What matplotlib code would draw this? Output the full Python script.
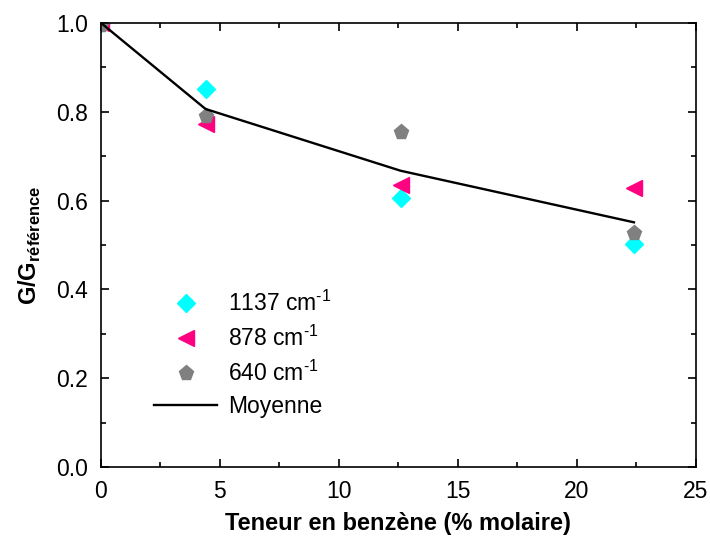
import matplotlib
matplotlib.use("Agg")
import matplotlib.pyplot as plt
from matplotlib.ticker import MultipleLocator, FormatStrFormatter

plt.rcParams['font.family'] = ['Liberation Sans', 'DejaVu Sans']
plt.rcParams['mathtext.fontset'] = 'custom'
plt.rcParams['mathtext.rm'] = 'Liberation Sans'
plt.rcParams['mathtext.bf'] = 'Liberation Sans:bold'

x = [0, 4.4, 12.6, 22.4]
s1137 = [1.0, 0.851, 0.606, 0.503]
s878 = [1.0, 0.773, 0.635, 0.628]
s640 = [0.995, 0.790, 0.755, 0.527]
moyenne = [1.0, 0.806, 0.667, 0.551]

fig = plt.figure(figsize=(7.1, 5.42), dpi=100)
ax = fig.add_axes([0.142, 0.138, 0.838, 0.820])

sup = r'$^{\mathrm{‐1}}$'
ax.plot(x, s1137, linestyle='none', marker='D', ms=9.5, color='#00FFFF', mec='#00FFFF',
        label='1137 cm' + sup)
ax.plot(x, s878, linestyle='none', marker='<', ms=11, color='#FF0080', mec='#FF0080',
        label='878 cm' + sup)
ax.plot(x, s640, linestyle='none', marker='p', ms=11, color='#808080', mec='#808080',
        label='640 cm' + sup)
ax.plot(x, moyenne, color='black', lw=1.7, label='Moyenne')

ax.set_xlim(0, 25)
ax.set_ylim(0, 1.0)
ax.xaxis.set_major_locator(MultipleLocator(5))
ax.xaxis.set_minor_locator(MultipleLocator(2.5))
ax.yaxis.set_major_locator(MultipleLocator(0.2))
ax.yaxis.set_minor_locator(MultipleLocator(0.1))
ax.tick_params(which='both', direction='in', top=True, right=True, width=1.2, labelsize=16.5)
ax.tick_params(which='major', length=6, pad=9)
ax.tick_params(which='minor', length=3.5)
ax.yaxis.set_major_formatter(FormatStrFormatter('%.1f'))
for sp in ax.spines.values():
    sp.set_linewidth(1.2)

ax.set_xlabel('Teneur en benzène (% molaire)', fontsize=17, fontweight='bold', labelpad=7)
ax.set_ylabel(r'$\mathbf{G/G}_{\mathbf{référence}}$', fontsize=17, labelpad=10)

leg = ax.legend(loc='lower left', bbox_to_anchor=(0.09, 0.11), frameon=False, fontsize=16.5,
                handlelength=2.75, labelspacing=0.42, handletextpad=0.45, numpoints=1,
                borderpad=0, borderaxespad=0)

fig.savefig('out.png', dpi=100)
